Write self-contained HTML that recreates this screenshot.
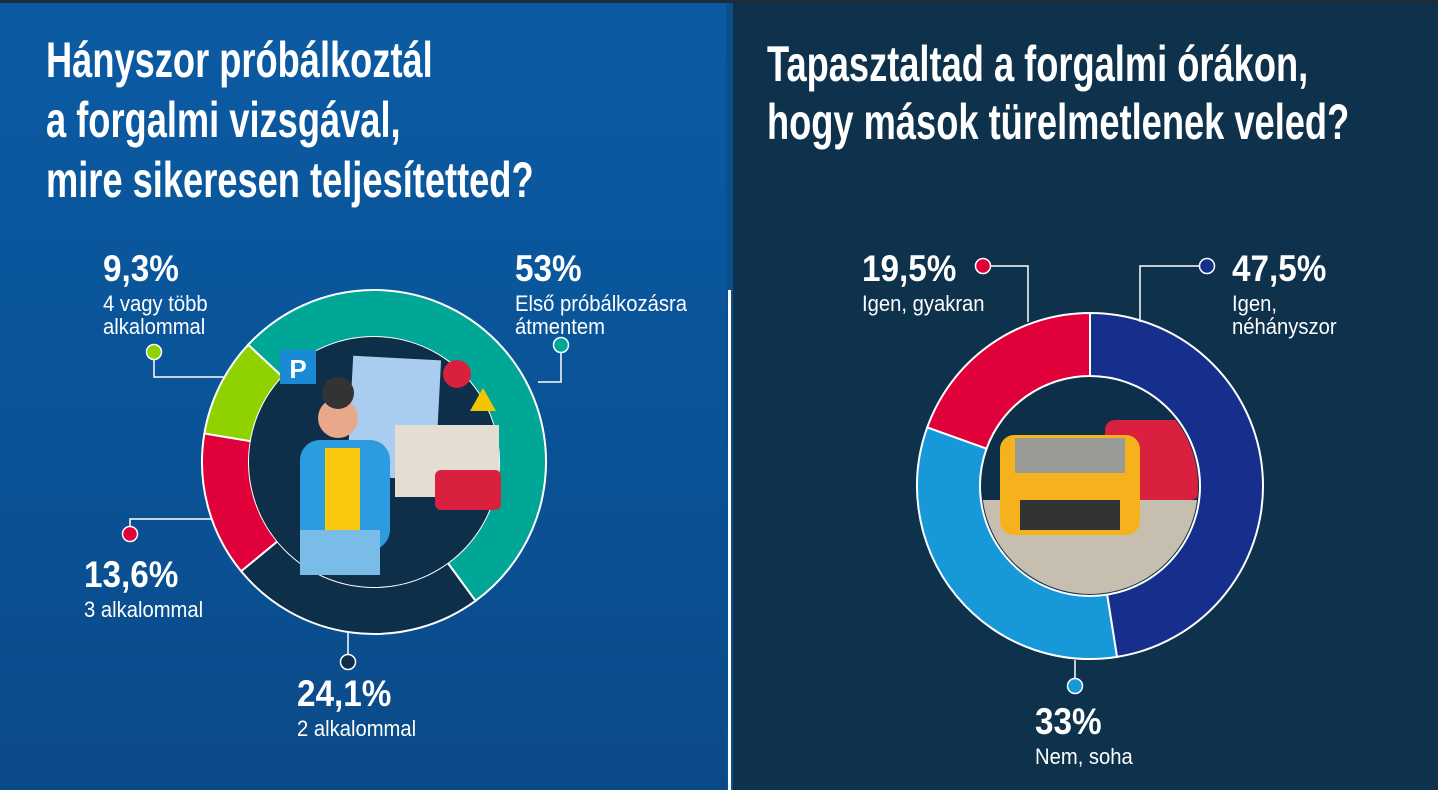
<!DOCTYPE html>
<html><head><meta charset="utf-8">
<style>
html,body{margin:0;padding:0;}
body{width:1438px;height:790px;overflow:hidden;position:relative;font-family:"Liberation Sans Narrow","Liberation Sans",sans-serif;}
#left{position:absolute;left:0;top:0;width:726px;height:790px;background:linear-gradient(180deg,#0b5ba3 0%,#0a5296 60%,#0b4a88 100%);}
#right{position:absolute;left:733px;top:0;width:705px;height:790px;background:#0e314c;}
#gap{position:absolute;left:726px;top:0;width:7px;height:790px;background:#0b4f8f;}
#divider{position:absolute;left:728px;top:290px;width:3px;height:500px;background:#fff;}
#topstrip{position:absolute;left:0;top:0;width:1438px;height:3px;background:#1d2c3a;}
.title{position:absolute;color:#fff;font-weight:bold;font-size:50px;line-height:60px;white-space:nowrap;transform:scaleX(0.725);transform-origin:0 0;}
svg{position:absolute;left:0;top:0;}
.pct{font-weight:bold;font-size:37px;fill:#fff;}
.sub{font-size:22px;fill:#fff;}
</style></head><body>
<div id="left"></div>
<div id="gap"></div>
<div id="right"></div>
<div id="topstrip"></div>
<div id="divider"></div>
<div class="title" style="left:46px;top:30px;">Hányszor próbálkoztál<br>a forgalmi vizsgával,<br>mire sikeresen teljesítetted?</div>
<div class="title" style="left:767px;top:35px;line-height:58px;">Tapasztaltad a forgalmi órákon,<br>hogy mások türelmetlenek veled?</div>

<svg id="chart" width="1438" height="790">
  <g>
    <circle cx="374" cy="462" r="125" fill="#0d2f4a"/>
    <rect x="350" y="358" width="88" height="120" fill="#a9cdef" transform="rotate(3 394 418)"/>
    <rect x="395" y="425" width="104" height="72" fill="#e3ddd2"/>
    <rect x="280" y="350" width="36" height="34" fill="#1a8ad6"/>
    <text x="298" y="378" font-size="26" font-weight="bold" fill="#fff" text-anchor="middle" font-family="Liberation Sans">P</text>
    <circle cx="457" cy="374" r="14" fill="#d9203e"/>
    <path d="M483 388 L496 411 L470 411 Z" fill="#f5c400"/>
    <rect x="300" y="440" width="90" height="110" rx="20" fill="#2d9be0"/>
    <rect x="325" y="448" width="35" height="100" fill="#f9c80e"/>
    <rect x="300" y="530" width="80" height="45" fill="#79bce8"/>
    <circle cx="338" cy="418" r="20" fill="#e8a889"/>
    <circle cx="338" cy="393" r="16" fill="#333"/>
    <rect x="435" y="470" width="66" height="40" rx="6" fill="#d9203e"/>
  </g>
  <g>
    <clipPath id="rc"><circle cx="1090" cy="486" r="108"/></clipPath>
    <g clip-path="url(#rc)">
      <rect x="980" y="370" width="220" height="230" fill="#0d2f4a"/>
      <rect x="980" y="500" width="220" height="100" fill="#c6beae"/>
      <rect x="1105" y="420" width="95" height="80" rx="10" fill="#d9203e"/>
      <rect x="1000" y="435" width="140" height="100" rx="14" fill="#f6b21c"/>
      <rect x="1015" y="438" width="110" height="35" fill="#9a9a96"/>
      <rect x="1020" y="500" width="100" height="30" fill="#333"/>
    </g>
  </g>
</svg>

<script>
const leftLabels = ["Első próbálkozásra átmentem","2 alkalommal","3 alkalommal","4 vagy több alkalommal"];
const leftValues = [53, 24.1, 13.6, 9.3];
const leftColors = ["#00a696","#0d2f4a","#e0003a","#8fd200"];
const leftStartDeg = 313;

const rightLabels = ["Igen, néhányszor","Nem, soha","Igen, gyakran"];
const rightValues = [47.5, 33, 19.5];
const rightColors = ["#172f8c","#1799d9","#e0003a"];
const rightStartDeg = 0;

const NS = "http://www.w3.org/2000/svg";
const svg = document.getElementById('chart');

function pt(cx, cy, r, deg){ const a = deg*Math.PI/180; return [cx + r*Math.sin(a), cy - r*Math.cos(a)]; }
function arcPath(cx, cy, ro, ri, a0, a1){
  const large = (a1-a0) > 180 ? 1 : 0;
  const p0 = pt(cx,cy,ro,a0), p1 = pt(cx,cy,ro,a1), p2 = pt(cx,cy,ri,a1), p3 = pt(cx,cy,ri,a0);
  return `M${p0[0]} ${p0[1]} A${ro} ${ro} 0 ${large} 1 ${p1[0]} ${p1[1]} L${p2[0]} ${p2[1]} A${ri} ${ri} 0 ${large} 0 ${p3[0]} ${p3[1]} Z`;
}
function donut(values, colors, cx, cy, ro, ri, start, prefix){
  const total = values.reduce((a,b)=>a+b,0);
  let a = start;
  values.forEach((v,i)=>{
    const span = v/total*360;
    const p = document.createElementNS(NS,'path');
    p.setAttribute('d', arcPath(cx,cy,ro,ri,a,a+span));
    p.setAttribute('fill', colors[i]);
    p.setAttribute('stroke', '#fff');
    p.setAttribute('stroke-width', '2');
    
    
    svg.insertBefore(p, svg.firstChild);
    a += span;
  });
}
donut(leftValues, leftColors, 374, 462, 172, 125, leftStartDeg, 'left');
donut(rightValues, rightColors, 1090, 486, 173, 110, rightStartDeg, 'right');

function fmt(v){ return String(v).replace('.', ',') + '%'; }

function leader(points, dot, color, name){
  const pl = document.createElementNS(NS,'polyline');
  pl.setAttribute('points', points.map(p=>p.join(',')).join(' '));
  pl.setAttribute('fill','none'); pl.setAttribute('stroke','#fff'); pl.setAttribute('stroke-width','1.5');
  
  
  svg.appendChild(pl);
  const c = document.createElementNS(NS,'circle');
  c.setAttribute('cx',dot[0]); c.setAttribute('cy',dot[1]); c.setAttribute('r','7.5');
  c.setAttribute('fill',color); c.setAttribute('stroke','#fff'); c.setAttribute('stroke-width','1.5');
  
  
  svg.appendChild(c);
}
function label(x, y, value, lines, name){
  const t = document.createElementNS(NS,'text');
  t.setAttribute('x', x / 0.9); t.setAttribute('y', y); t.setAttribute('class','pct');
  t.setAttribute('transform','scale(0.9 1)');
  t.textContent = fmt(value);
  
  
  svg.appendChild(t);
  lines.forEach((ln,k)=>{
    const s = document.createElementNS(NS,'text');
    s.setAttribute('x', x / 0.92); s.setAttribute('y', y + 30 + k*23); s.setAttribute('class','sub');
    s.setAttribute('transform','scale(0.92 1)');
    s.textContent = ln;
    
    
    svg.appendChild(s);
  });
}

leader([[154,352],[154,377],[224,377]],[154,352],leftColors[3],'left-4plus');
label(103, 281, leftValues[3], ["4 vagy több","alkalommal"], 'left-4plus');
leader([[561,345],[561,382],[538,382]],[561,345],leftColors[0],'left-first');
label(515, 281, leftValues[0], ["Első próbálkozásra","átmentem"], 'left-first');
leader([[130,534],[130,519],[212,519]],[130,534],leftColors[2],'left-3');
label(84, 587, leftValues[2], ["3 alkalommal"], 'left-3');
leader([[348,662],[348,633]],[348,662],leftColors[1],'left-2');
label(297, 706, leftValues[1], ["2 alkalommal"], 'left-2');

leader([[983,266],[1028,266],[1028,322]],[983,266],rightColors[2],'right-often');
label(862, 281, rightValues[2], ["Igen, gyakran"], 'right-often');
leader([[1207,266],[1140,266],[1140,322]],[1207,266],rightColors[0],'right-sometimes');
label(1232, 281, rightValues[0], ["Igen,","néhányszor"], 'right-sometimes');
leader([[1075,686],[1075,660]],[1075,686],rightColors[1],'right-never');
label(1035, 734, rightValues[1], ["Nem, soha"], 'right-never');
</script>
</body></html>
